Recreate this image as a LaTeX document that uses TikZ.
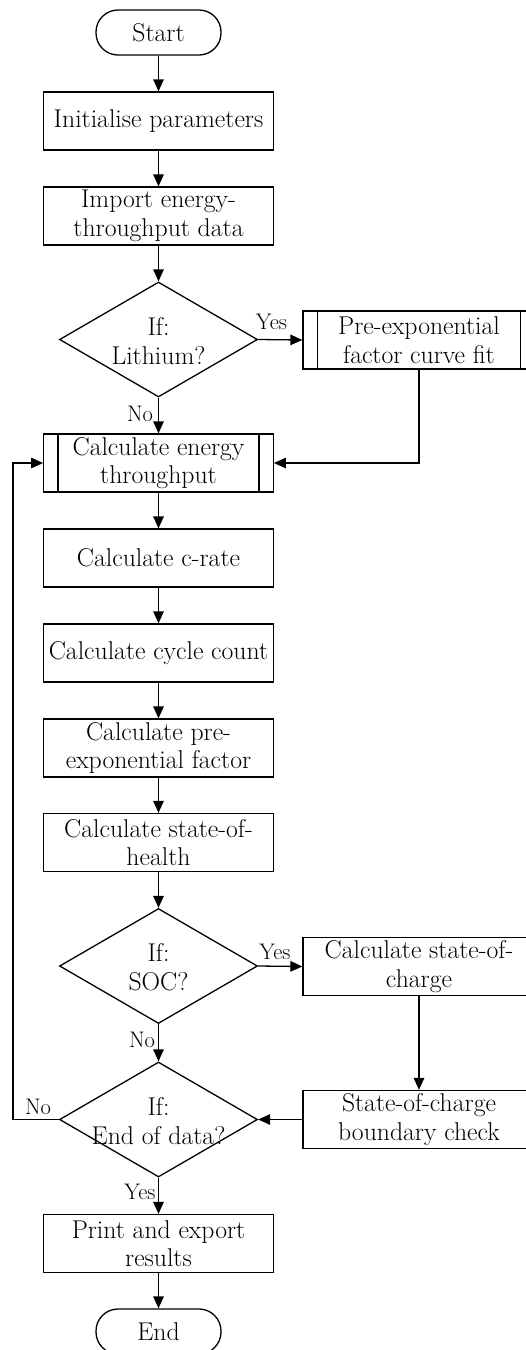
\documentclass[tikz,border=0pt]{standalone}
\usetikzlibrary{arrows.meta,shapes.geometric}
\begin{document}
\begin{tikzpicture}[x=1pt,y=-1pt,
  every node/.style={font=\fontsize{25.7}{28.5}\selectfont},
  lw/.style={line width=1.3pt},
  procbox/.style={draw,lw,rectangle,minimum width=229.5pt,minimum height=58pt,inner sep=1pt,align=center},
  rbox/.style={procbox,minimum width=232pt},
  termbox/.style={draw,lw,rectangle,rounded corners=22pt,minimum width=125pt,minimum height=45pt,inner sep=1pt},
  dia/.style={draw,lw,diamond,minimum width=198pt,minimum height=115pt,inner sep=0pt},
  diatext/.style={align=center,inner sep=0pt},
  small/.style={font=\fontsize{22.5}{25}\selectfont,inner sep=0pt},
  arr/.style={lw,-{Triangle[length=12pt,width=10.5pt]}},
  ln/.style={lw}
]
\useasboundingbox (0,0) rectangle (526,1350);
\clip (0,0) rectangle (526,1350);

% nodes
\node[termbox] (start) at (158.5,32.5) {Start};
\node[procbox] (init) at (158.5,121) {Initialise parameters};
\node[procbox] (import) at (158.5,216) {Import energy-\\throughput data};
\node[dia] (d1) at (158.5,339.5) {};
\node[diatext] (d1t) at (158.5,341) {If:\\Lithium?};
\node[rbox] (pre) at (419,340) {Pre-exponential\\factor curve fit};
\draw[ln] ([xshift=15pt]pre.north west) -- ([xshift=15pt]pre.south west);
\draw[ln] ([xshift=-15pt]pre.north east) -- ([xshift=-15pt]pre.south east);
\node[procbox] (energy) at (158.5,463) {Calculate energy\\throughput};
\draw[ln] ([xshift=15pt]energy.north west) -- ([xshift=15pt]energy.south west);
\draw[ln] ([xshift=-15pt]energy.north east) -- ([xshift=-15pt]energy.south east);
\node[procbox] (crate) at (158.5,558) {Calculate c-rate};
\node[procbox] (cycle) at (158.5,653) {Calculate cycle count};
\node[procbox] (pref) at (158.5,748) {Calculate pre-\\exponential factor};
\node[procbox] (soh) at (158.5,842.5) {Calculate state-of-\\health};
\node[dia] (d2) at (158.5,966) {};
\node[diatext] (d2t) at (158.5,967) {If:\\SOC?};
\node[rbox] (soc) at (419,966.5) {Calculate state-of-\\charge};
\node[dia] (d3) at (158.5,1119.5) {};
\node[diatext] (d3t) at (158.5,1121) {If:\\End of data?};
\node[rbox] (bnd) at (419,1119.5) {State-of-charge\\boundary check};
\node[procbox] (print) at (158.5,1243.5) {Print and export\\results};
\node[termbox] (end) at (158.5,1331.5) {End};
\coordinate (loop) at (13,1119.5);

% connectors
\draw[arr] (start) -- (init);
\draw[arr] (init) -- (import);
\draw[arr] (import) -- (d1.north);
\draw[arr] (d1.east) -- (pre.west);
\draw[arr] (d1.south) -- (energy.north);
\draw[arr] (pre.south) |- (energy.east);
\draw[arr] (energy) -- (crate);
\draw[arr] (crate) -- (cycle);
\draw[arr] (cycle) -- (pref);
\draw[arr] (pref) -- (soh);
\draw[arr] (soh) -- (d2.north);
\draw[arr] (d2.east) -- (soc.west);
\draw[arr] (d2.south) -- (d3.north);
\draw[arr] (soc) -- (bnd);
\draw[arr] (bnd.west) -- (d3.east);
\draw[arr] (d3.west) -- (loop) |- (energy.west);
\draw[arr] (d3.south) -- (print);
\draw[arr] (print) -- (end);

% labels
\node[small] (y1) at (271.5,322) {Yes};
\node[small] (n1) at (140,414) {No};
\node[small] (y2) at (275,952) {Yes};
\node[small] (n2) at (142,1040) {No};
\node[small] (n3) at (38,1107) {No};
\node[small] (y3) at (140,1192) {Yes};
\end{tikzpicture}
\end{document}
